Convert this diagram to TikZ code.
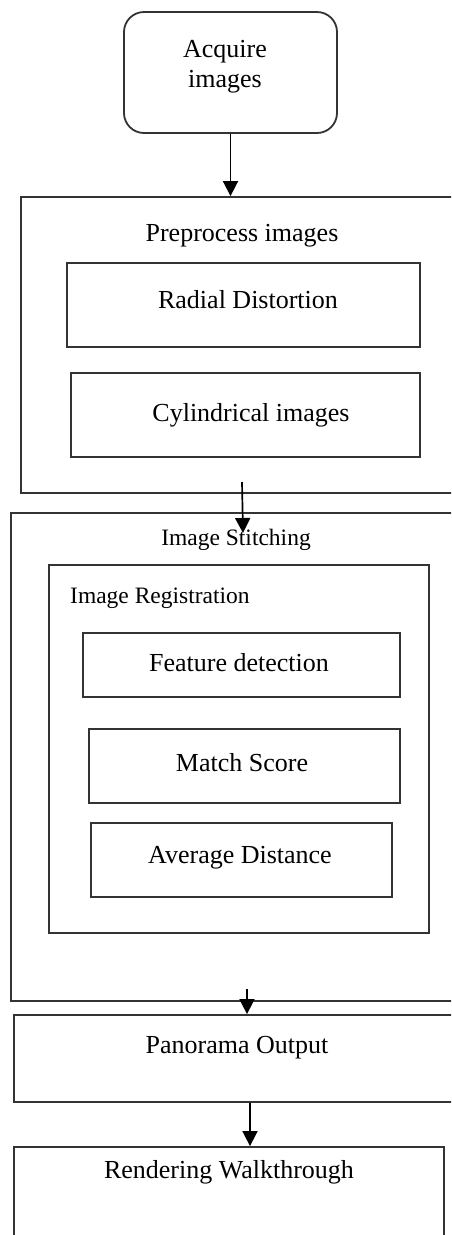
\documentclass[tikz,border=0pt]{standalone}
\usepackage{fontspec}
\setmainfont{Liberation Serif}
\usetikzlibrary{arrows.meta}
\begin{document}
\begin{tikzpicture}[x=1pt,y=-1pt,
  box/.style={draw=black!80, line width=1.8pt, rectangle, inner sep=0pt},
  txt/.style={font=\fontsize{26}{30}\selectfont, inner sep=0pt, align=center},
  subtxt/.style={font=\fontsize{23.5}{28}\selectfont, inner sep=0pt},
  arr/.style={draw=black, line width=1.7pt, -{Triangle[width=15pt,length=15pt]}}]
\useasboundingbox (0,0) rectangle (451,1235);
\clip (0,0) rectangle (451,1235);

% start
\node[box, rounded corners=20pt, minimum width=213pt, minimum height=121pt] (acq) at (230.5,72.5) {};
\node[txt] (tacq) at (225,67) {Acquire\\images};

% preprocessing stage
\node[box, minimum width=459pt, minimum height=296pt] (pre) at (250.5,345) {};
\node[txt] (tpre) at (242,236) {Preprocess images};
\node[box, minimum width=353pt, minimum height=84pt] (rad) at (243.5,305) {};
\node[txt] (trad) at (248,300) {Radial Distortion};
\node[box, minimum width=349pt, minimum height=84pt] (cyl) at (245.5,415) {};
\node[txt] (tcyl) at (251,415) {Cylindrical images};

% stitching stage
\node[box, minimum width=469pt, minimum height=488pt] (sti) at (245.5,757) {};
\node[subtxt] (tsti) at (236,540) {Image Stitching};
\node[box, minimum width=380pt, minimum height=368pt] (reg) at (239,749) {};
\node[subtxt, anchor=west] (treg) at (70,598) {Image Registration};
\node[box, minimum width=317pt, minimum height=64pt] (feat) at (241.5,665) {};
\node[txt] (tfeat) at (239,663) {Feature detection};
\node[box, minimum width=311pt, minimum height=74pt] (match) at (244.5,766) {};
\node[txt] (tmatch) at (242,763) {Match Score};
\node[box, minimum width=301pt, minimum height=74pt] (avg) at (241.5,860) {};
\node[txt] (tavg) at (240,858) {Average Distance};

% output stages
\node[box, minimum width=466pt, minimum height=87pt] (pan) at (247,1058.5) {};
\node[txt] (tpan) at (237,1048) {Panorama Output};
\node[box, minimum width=430pt, minimum height=133pt] (ren) at (229,1213.5) {};
\node[txt] (tren) at (229,1172) {Rendering Walkthrough};

% connectors
\draw[arr] (acq.south) -- (acq.south |- pre.north);
\coordinate (s1) at (242,482);
\coordinate (e1) at (243,533);
\draw[arr] (s1) -- (e1);
\coordinate (s2) at (247,989);
\draw[arr] (s2) -- (s2 |- pan.north);
\draw[arr] ([xshift=3pt]pan.south) -- ([xshift=3pt]pan.south |- ren.north);
\end{tikzpicture}
\end{document}
